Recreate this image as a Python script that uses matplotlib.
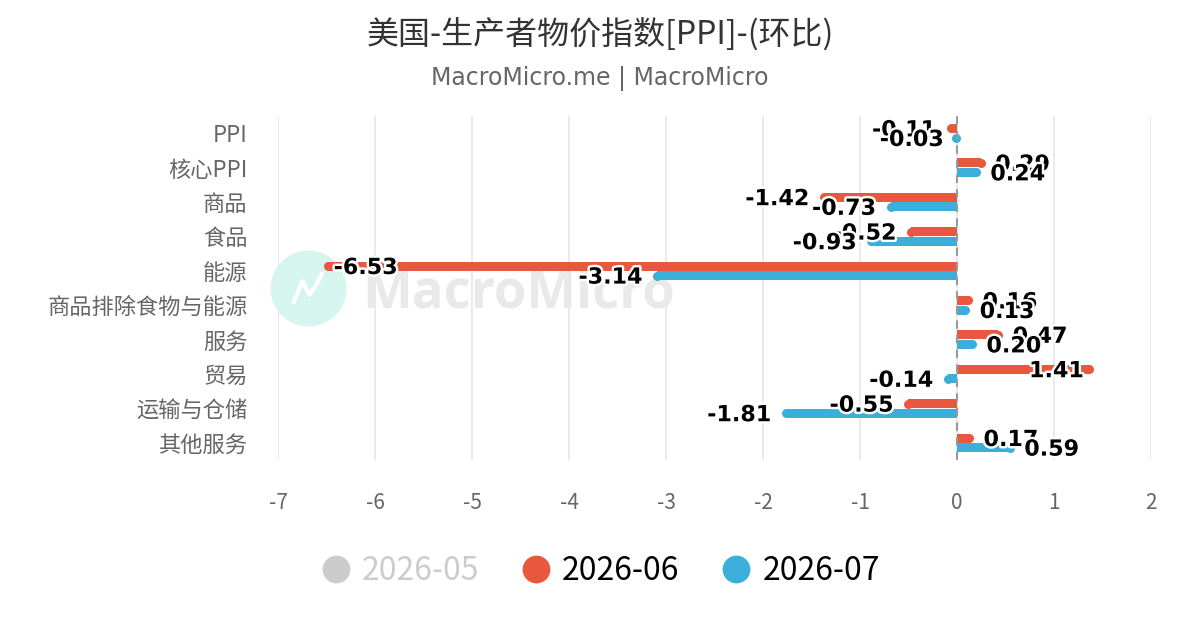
import matplotlib
matplotlib.use("Agg")
import matplotlib.pyplot as plt
import matplotlib.patheffects as pe
from matplotlib.lines import Line2D
import numpy as np

plt.rcParams['font.family'] = ['Noto Sans CJK SC', 'DejaVu Sans']

categories = ["PPI", "核心PPI", "商品", "食品", "能源", "商品排除食物与能源",
              "服务", "贸易", "运输与仓储", "其他服务"]
jun = [-0.11, 0.29, -1.42, -0.52, -6.53, 0.16, 0.47, 1.41, -0.55, 0.17]
jul = [-0.03, 0.24, -0.73, -0.93, -3.14, 0.13, 0.20, -0.14, -1.81, 0.59]
series_names = ["2026-05", "2026-06", "2026-07"]
x_ticks = [-7, -6, -5, -4, -3, -2, -1, 0, 1, 2]

RED = "#e9573f"
BLUE = "#3bafda"
GREY = "#cccccc"

fig = plt.figure(figsize=(12, 6.3), dpi=100)
ax = fig.add_axes([0.2317, 0.2698, 0.7275, 0.5461])
ax.set_xlim(-7, 2)
ax.set_ylim(len(categories) - 0.5, -0.5)

# pixel -> data helpers
px_x = 97.0            # pixels per x unit
px_y = 34.4            # pixels per category
bar_h = 9 / px_y
off = 4.8 / px_y
r = 4.5 / px_x

y = np.arange(len(categories))

def draw(vals, dy, color):
    for yi, v in zip(y, vals):
        s = 1 if v >= 0 else -1
        if abs(v) > r:
            ax.barh(yi + dy, v - s * r, height=bar_h, color=color, zorder=3, linewidth=0)
            cx = v - s * r
        else:
            cx = v / 2
        ax.scatter([cx], [yi + dy], s=(9 * 0.72) ** 2, color=color,
                   zorder=3, linewidths=0, marker="o")
        # data label, flipped inside the bar when it would leave the plot
        est_w = (len(f"{v:.2f}") * 14.5) / px_x
        gap = 10 / px_x
        if s > 0:
            outside = v + gap + est_w <= 2
            ha = "left" if outside else "right"
            dx = 10 if outside else -10
        else:
            outside = v - gap - est_w >= -7
            ha = "right" if outside else "left"
            dx = -10 if outside else 10
        ax.annotate(f"{v:.2f}", (v, yi + dy), xytext=(dx * 0.72, -2 * 0.72),
                    textcoords="offset points", ha=ha, va="center",
                    fontsize=16, fontweight="bold", family="DejaVu Sans",
                    color="black", zorder=5,
                    path_effects=[pe.withStroke(linewidth=3.5, foreground="white")])

draw(jun, -off, RED)
draw(jul, off, BLUE)

ax.axvline(0, color="#999999", linestyle=(0, (4, 3)), linewidth=1.5, zorder=4)

ax.set_xticks(x_ticks)
ax.set_xticklabels([str(t) for t in x_ticks])
ax.grid(axis="x", color="#e6e6e6", linewidth=1.2, zorder=0)
ax.set_axisbelow(True)
ax.set_yticks(y)
ax.set_yticklabels(categories)
ax.tick_params(axis="y", length=0, pad=22, labelsize=16, labelcolor="#666666")
ax.tick_params(axis="x", length=0, pad=23, labelsize=15, labelcolor="#666666")
for sp in ax.spines.values():
    sp.set_visible(False)

# watermark
ax.scatter([0.034], [0.5], s=(76 * 0.72) ** 2, color="#d5f5ee", linewidths=0,
           transform=ax.transAxes, zorder=1, clip_on=False)
ax.plot([0.018, 0.028, 0.036, 0.044, 0.050], [0.46, 0.52, 0.48, 0.51, 0.54],
        color="white", linewidth=3, transform=ax.transAxes, zorder=1.5, clip_on=False)
ax.text(0.096, 0.485, "MacroMicro", transform=ax.transAxes, fontsize=38,
        fontweight="bold", color="#e9e9e9", family="Open Sans",
        ha="left", va="center", zorder=1)

fig.text(0.5, 0.946, "美国-生产者物价指数[PPI]-(环比)", ha="center", va="center",
         fontsize=23, color="#333333")
fig.text(0.5, 0.876, "MacroMicro.me | MacroMicro", ha="center", va="center",
         fontsize=17, color="#666666", family="DejaVu Sans")

handles = [Line2D([], [], linestyle="none", marker="o", markersize=20,
                  color=c, markeredgewidth=0) for c in (GREY, RED, BLUE)]
leg = fig.legend(handles, series_names, loc="center", bbox_to_anchor=(0.5, 0.093),
                 ncol=3, frameon=False, fontsize=23, handletextpad=0.31,
                 columnspacing=1.28, handlelength=1.0)
for t, c in zip(leg.get_texts(), (GREY, "black", "black")):
    t.set_color(c)

fig.savefig("out.png", dpi=100)
plt.close(fig)
